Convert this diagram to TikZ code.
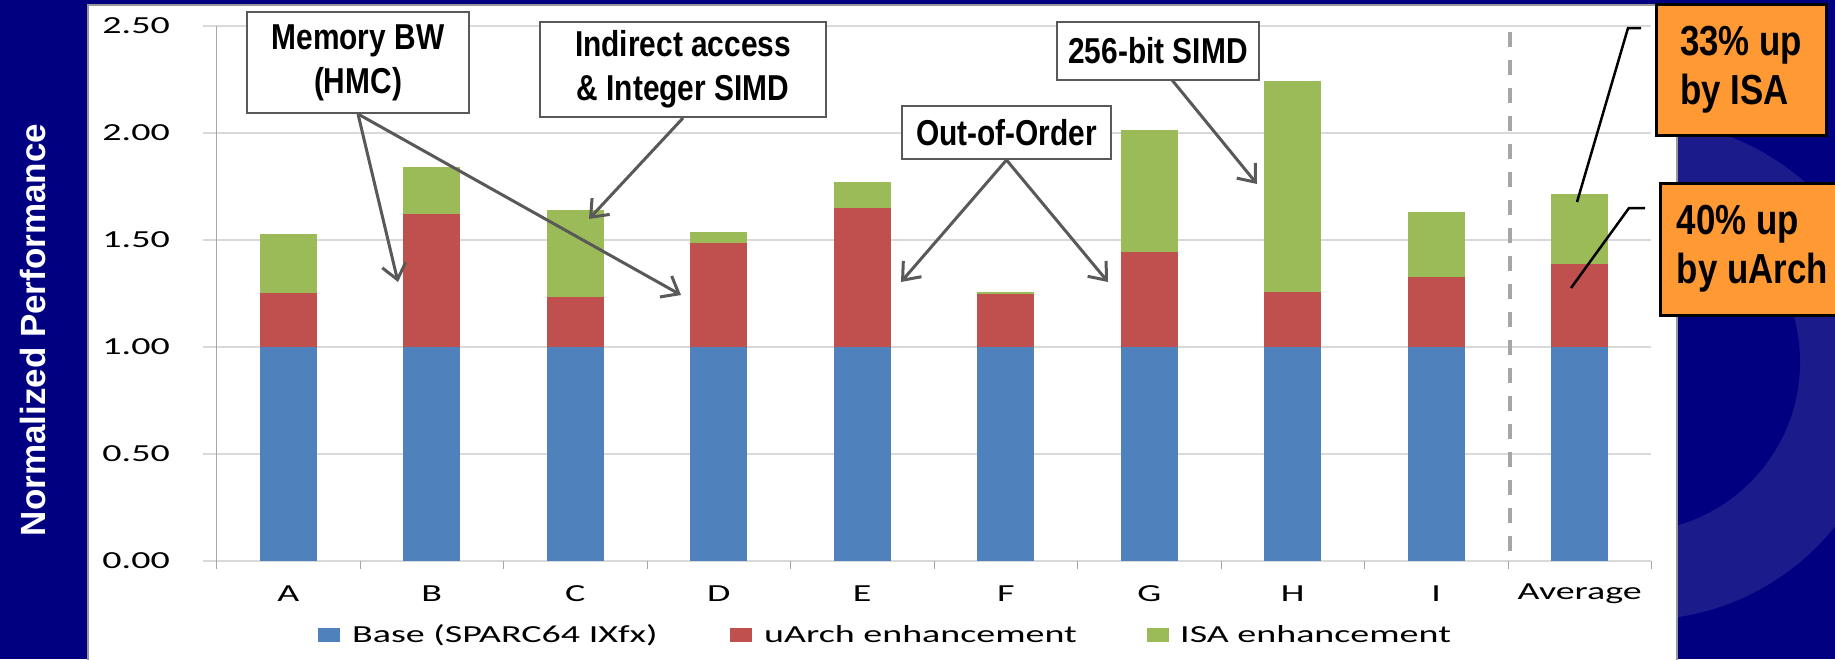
\documentclass[tikz,border=0pt]{standalone}
\usepackage{fontspec}
\setmainfont{Liberation Sans}
\newfontfamily\axisf{Carlito}[FakeStretch=1.55]
\newfontfamily\narrowf{Liberation Sans}[FakeStretch=0.83]
\usetikzlibrary{arrows.meta}
\definecolor{navy}{HTML}{000080}
\definecolor{ringc}{HTML}{1B1B8B}
\definecolor{barblue}{HTML}{4F81BD}
\definecolor{barred}{HTML}{C0504D}
\definecolor{bargreen}{HTML}{9BBB59}
\definecolor{orangebox}{HTML}{FF9933}
\definecolor{gridc}{HTML}{D9D9D9}
\definecolor{axisc}{HTML}{A6A6A6}
\definecolor{arrowc}{HTML}{595959}
\begin{document}
\begin{tikzpicture}[x=1pt,y=-1pt,
  callout/.style={draw=arrowc, line width=2pt, fill=white, align=center, inner sep=0pt,
    font=\narrowf\bfseries\fontsize{36}{44}\selectfont},
  pointer/.style={draw=arrowc, line width=3pt, -{Straight Barb[length=15pt,width=24pt]}},
  obox/.style={draw=black, line width=3pt, fill=orangebox, align=left, inner sep=0pt,
    font=\narrowf\bfseries\fontsize{42}{49}\selectfont},
  olink/.style={draw=black, line width=2.5pt},
  tickl/.style={font=\axisf\fontsize{24.5}{28}\selectfont, inner sep=0pt},
  legsq/.style={minimum width=22pt, minimum height=14pt, inner sep=0pt},
  gridl/.style={draw=gridc, line width=1.5pt}
]
\useasboundingbox (0,0) rectangle (1835,659);
% background
\fill[navy] (0,0) rectangle (1835,659);
\begin{scope}
  \clip (1678,0) rectangle (1835,659);
  \fill[ringc] (1640,370) circle[radius=250pt];
  \fill[navy] (1630,362) circle[radius=170pt];
\end{scope}
\draw[fill=white, draw=gray!80, line width=1.5pt] (88,5) rectangle (1677,665);

% grid
\foreach \v in {0,0.5,1,1.5,2,2.5}
  \draw[gridl] (203,{561-214*\v}) -- (1651,{561-214*\v});
\foreach \v/\t in {0/0.00,0.5/0.50,1/1.00,1.5/1.50,2/2.00,2.5/2.50}
  \node[tickl, anchor=east] (yl\t) at (170,{561-214*\v}) {\t};

% bars
\foreach \i/\r/\g/\lab in {0/1.251/1.527/A,1/1.620/1.840/B,2/1.234/1.640/C,3/1.486/1.536/D,
    4/1.651/1.773/E,5/1.250/1.256/F,6/1.442/2.014/G,7/1.256/2.243/H,8/1.326/1.631/I,9/1.389/1.716/Average}{
  \pgfmathsetmacro\cx{288.25+143.5*\i}
  \fill[barblue] (\cx-28.5,561) rectangle (\cx+28.5,347);
  \fill[barred] (\cx-28.5,347) rectangle (\cx+28.5,{561-214*\r});
  \fill[bargreen] (\cx-28.5,{561-214*\r}) rectangle (\cx+28.5,{561-214*\g});
  \node[tickl] (xl\i) at (\cx,594) {\lab};
}

% axis
\draw[axisc, line width=1pt] (216.5,26) -- (216.5,569);
\foreach \k in {0,...,10}
  \draw[axisc, line width=1pt] ({216.5+143.5*\k},561) -- ++(0,8);
\draw[axisc, line width=3.5pt, dash pattern=on 15pt off 13pt] (1510,32) -- (1510,552);

% legend
\node[legsq, fill=barblue] (lgb) at (329,635) {};
\node[tickl, anchor=base west] (lgbt) at (352,642) {Base (SPARC64 IXfx)};
\node[legsq, fill=barred] (lgr) at (741,635) {};
\node[tickl, anchor=base west] (lgrt) at (764,642) {uArch enhancement};
\node[legsq, fill=bargreen] (lgg) at (1158,635) {};
\node[tickl, anchor=base west] (lggt) at (1180,642) {ISA enhancement};

% axis title
\node[font=\bfseries\fontsize{35}{40}\selectfont, text=white, rotate=90, anchor=base, inner sep=0pt]
  (ytitle) at (45,330) {Normalized Performance};

% callouts
\node[callout, minimum width=222pt, minimum height=101pt] (mem) at (358,62.5) {Memory BW\\(HMC)};
\node[callout, minimum width=286pt, minimum height=95pt] (ind) at (683,69.5) {Indirect access\\\& Integer SIMD};
\node[callout, minimum width=209pt, minimum height=53pt] (ooo) at (1006.5,132.5) {Out-of-Order};
\node[callout, minimum width=202pt, minimum height=58pt] (simd) at (1158,51) {256-bit SIMD};

\coordinate (tipB) at (398,282);
\coordinate (tipD) at (681,295);
\coordinate (tipC) at (589,219);
\coordinate (tipE) at (901,282);
\coordinate (tipG) at (1108,282);
\coordinate (tipH) at (1257,184);
\coordinate (simdS) at (1172,80);

\draw[pointer] (mem.south) -- (tipB);
\draw[pointer] (mem.south) -- (tipD);
\draw[pointer] (ind.south) -- (tipC);
\draw[pointer] (ooo.south) -- (tipE);
\draw[pointer] (ooo.south) -- (tipG);
\draw[pointer] (simdS) -- (tipH);

% orange boxes
\node[obox, minimum width=170pt, minimum height=131pt] (isa) at (1741,69.5) {33\% up\\by ISA};
\node[obox, minimum width=185pt, minimum height=132pt] (uarch) at (1752.5,249) {40\% up\\by uArch};

\coordinate (isaA) at (1641,28);
\coordinate (isaB) at (1628,28);
\coordinate (isaT) at (1577,202);
\coordinate (uaA) at (1645,208);
\coordinate (uaB) at (1629,208);
\coordinate (uaT) at (1571,288);
\draw[olink] (isaA) -- (isaB) -- (isaT);
\draw[olink] (uaA) -- (uaB) -- (uaT);
\end{tikzpicture}
\end{document}
